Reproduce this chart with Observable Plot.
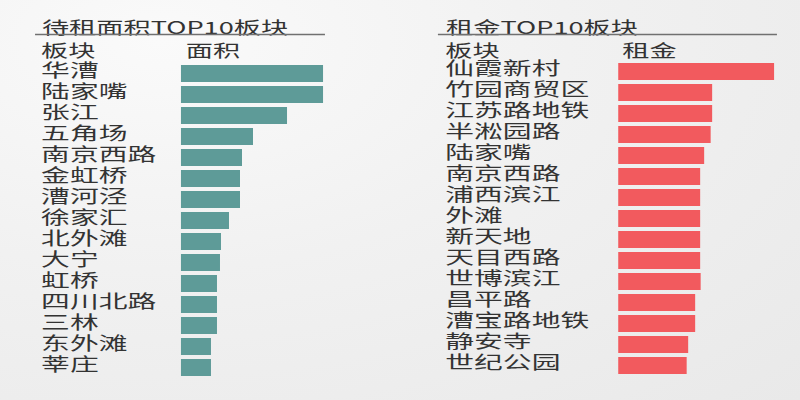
<!DOCTYPE html>
<html>
<head>
<meta charset="utf-8">
<script src="https://cdn.jsdelivr.net/npm/d3@7"></script>
<script src="https://cdn.jsdelivr.net/npm/@observablehq/plot@0.6"></script>
<style>
  html, body { margin: 0; padding: 0; background: #f1f1f1; }
  #wrap { display: flex; width: 800px; height: 400px; overflow: hidden;
    background: radial-gradient(ellipse at 20% 10%, #fafafa 0%, #f1f1f1 45%, #e9e9e9 100%); }
  text { font-family: "Noto Sans CJK SC", "Noto Sans", sans-serif; }
</style>
</head>
<body>
<div id="wrap"></div>
<script>
// ---- Data ----
const areaTitle = "待租面积TOP10板块";
const areaHeaders = ["板块", "面积"];
const areaNames = ["华漕", "陆家嘴", "张江", "五角场", "南京西路", "金虹桥", "漕河泾", "徐家汇", "北外滩", "大宁", "虹桥", "四川北路", "三林", "东外滩", "莘庄"];
const areaValues = [14.2, 14.2, 10.6, 7.2, 6.1, 5.9, 5.9, 4.8, 4.0, 3.9, 3.6, 3.6, 3.6, 3.0, 3.0];

const rentTitle = "租金TOP10板块";
const rentHeaders = ["板块", "租金"];
const rentNames = ["仙霞新村", "竹园商贸区", "江苏路地铁", "半淞园路", "陆家嘴", "南京西路", "浦西滨江", "外滩", "新天地", "天目西路", "世博滨江", "昌平路", "漕宝路地铁", "静安寺", "世纪公园"];
const rentValues = [15.6, 9.4, 9.4, 9.25, 8.6, 8.2, 8.2, 8.2, 8.2, 8.2, 8.25, 7.7, 7.7, 7.0, 6.85];

// ---- Layout (logical units; each panel is horizontally stretched 1.6x) ----
const STRETCH = 1.6;
const PW = 250, H = 400;
const TEXT = "#333333";
const SHIFT = -4; // vertical nudge so CJK ink sits centred

function panel(cfg) {
  const rows = cfg.names.map((n, i) => ({name: n, value: cfg.values[i]}));
  const underline = () => {
    const l = document.createElementNS("http://www.w3.org/2000/svg", "line");
    l.setAttribute("x1", cfg.ulX1); l.setAttribute("x2", cfg.ulX2);
    l.setAttribute("y1", 34.5); l.setAttribute("y2", 34.5);
    l.setAttribute("stroke", "#707070"); l.setAttribute("stroke-width", 1.5);
    return l;
  };
  const svg = Plot.plot({
    width: PW, height: H,
    marginLeft: cfg.ml, marginRight: cfg.mr, marginTop: cfg.mt, marginBottom: cfg.mb,
    style: {background: "transparent", fontFamily: '"Noto Sans CJK SC", sans-serif'},
    x: {axis: null, domain: [0, cfg.max]},
    y: {axis: null, domain: cfg.names, padding: 0.17},
    marks: [
      Plot.barX(rows, {x: "value", y: "name", fill: cfg.color}),
      Plot.text(rows, {y: "name", text: "name", frameAnchor: "left", textAnchor: "start",
        dx: cfg.labelX - cfg.ml, dy: SHIFT + 1, fontSize: 18, fill: TEXT}),
      Plot.text([cfg.title], {text: d => d, frameAnchor: "top-left", textAnchor: "start",
        dx: cfg.labelX + 0.5 - cfg.ml, dy: 25 + SHIFT - cfg.mt, fontSize: 17, fill: TEXT}),
      Plot.text([cfg.headers[0]], {text: d => d, frameAnchor: "top-left", textAnchor: "start",
        dx: cfg.labelX - cfg.ml, dy: 48 + SHIFT - cfg.mt, fontSize: 17, fill: TEXT}),
      Plot.text([cfg.headers[1]], {text: d => d, frameAnchor: "top-left", textAnchor: "start",
        dx: cfg.headX - cfg.ml, dy: 48 + SHIFT - cfg.mt, fontSize: 17, fill: TEXT}),
      underline
    ]
  });
  svg.setAttribute("preserveAspectRatio", "none");
  svg.setAttribute("width", PW * STRETCH);
  svg.setAttribute("height", H);
  svg.style.width = (PW * STRETCH) + "px";
  svg.style.height = H + "px";
  svg.style.maxWidth = "none";
  return svg;
}

const wrap = document.getElementById("wrap");
wrap.appendChild(panel({
  title: areaTitle, headers: areaHeaders, names: areaNames, values: areaValues,
  max: 14.2, color: "#5e9b98",
  ml: 113.1, mr: 48.1, mt: 56.3, mb: 15,
  labelX: 25.2, headX: 115.6, ulX1: 21.9, ulX2: 203.1
}));
wrap.appendChild(panel({
  title: rentTitle, headers: rentHeaders, names: rentNames, values: rentValues,
  max: 15.6, color: "#f25a5e",
  ml: 136.4, mr: 16.2, mt: 54.6, mb: 16.7,
  labelX: 27.8, headX: 138.4, ulX1: 23.7, ulX2: 235.6
}));
</script>
</body>
</html>
